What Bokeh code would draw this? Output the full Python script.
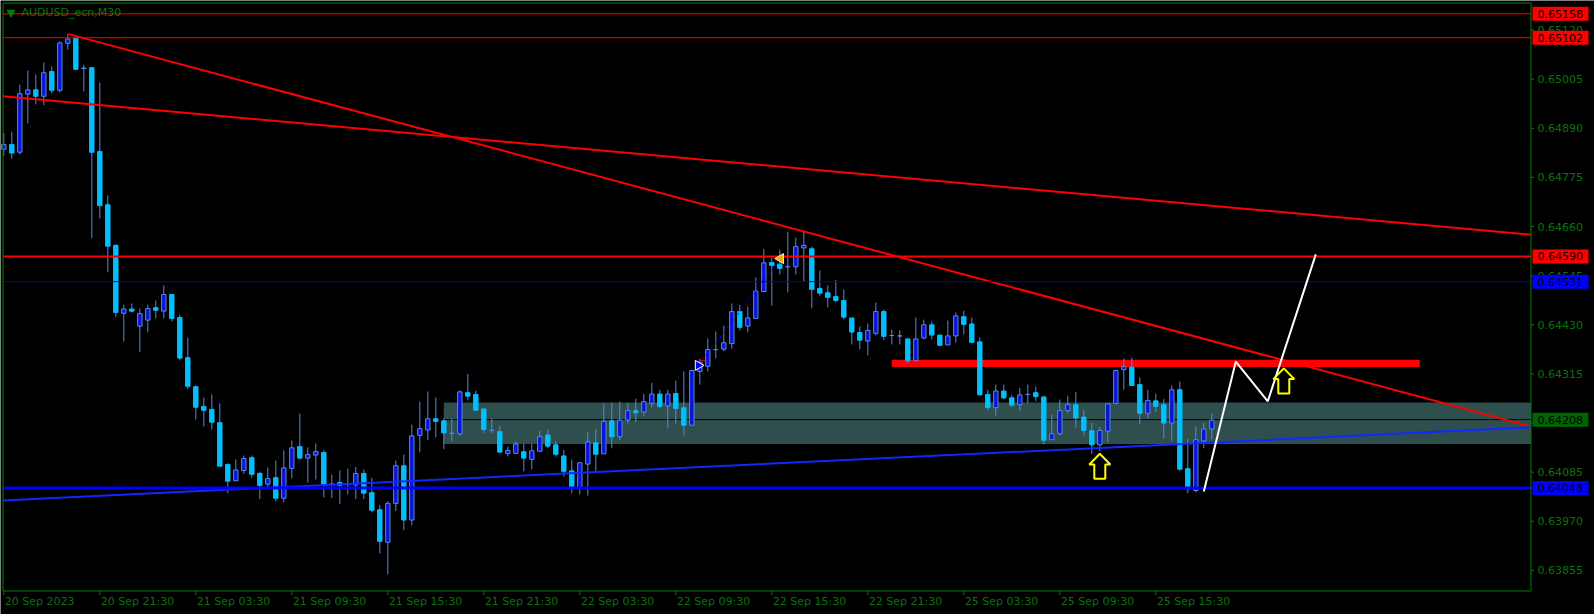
import numpy as np
from bokeh.plotting import figure
from bokeh.models import Range1d, ColumnDataSource
from bokeh.embed import file_html
from bokeh.resources import INLINE
from bokeh.core.properties import value

# ---------------- data (AUDUSD M30, bar index 0 = 20 Sep 2023 15:30) ----------------
opens = [0.64841, 0.64852, 0.64834, 0.64970, 0.64980, 0.64965, 0.65023, 0.64979, 0.65089, 0.65101,
         0.65030, 0.65032, 0.64836, 0.64711, 0.64616, 0.64457, 0.64467, 0.64427, 0.64441, 0.64470,
         0.64462, 0.64501, 0.64447, 0.64353, 0.64285, 0.64239, 0.64232, 0.64201, 0.64103, 0.64065,
         0.64089, 0.64119, 0.64082, 0.64057, 0.64072, 0.64024, 0.64094, 0.64145, 0.64118, 0.64125,
         0.64131, 0.64057, 0.64061, 0.64056, 0.64055, 0.64082, 0.64037, 0.63997, 0.63921, 0.64012,
         0.64100, 0.63973, 0.64171, 0.64184, 0.64210, 0.64205, 0.64176, 0.64175, 0.64271, 0.64267,
         0.64233, 0.64183, 0.64180, 0.64129, 0.64129, 0.64133, 0.64115, 0.64134, 0.64172, 0.64149,
         0.64123, 0.64088, 0.64048, 0.64104, 0.64154, 0.64128, 0.64205, 0.64168, 0.64207, 0.64229,
         0.64226, 0.64246, 0.64268, 0.64240, 0.64269, 0.64236, 0.64195, 0.64321, 0.64333, 0.64372,
         0.64373, 0.64386, 0.64461, 0.64427, 0.64445, 0.64508, 0.64576, 0.64572, 0.64566, 0.64566,
         0.64610, 0.64608, 0.64515, 0.64505, 0.64496, 0.64487, 0.64446, 0.64412, 0.64392, 0.64410,
         0.64461, 0.64405, 0.64404, 0.64397, 0.64346, 0.64399, 0.64430, 0.64406, 0.64383, 0.64404,
         0.64449, 0.64432, 0.64390, 0.64267, 0.64236, 0.64275, 0.64259, 0.64243, 0.64267, 0.64271,
         0.64261, 0.64161, 0.64175, 0.64229, 0.64243, 0.64214, 0.64182, 0.64149, 0.64181, 0.64246,
         0.64325, 0.64331, 0.64290, 0.64223, 0.64252, 0.64243, 0.64200, 0.64278, 0.64093, 0.64042,
         0.64158, 0.64186]
highs = [0.64879, 0.64882, 0.64992, 0.65025, 0.65016, 0.65044, 0.65035, 0.65093, 0.65111, 0.65101,
         0.65039, 0.65032, 0.64997, 0.64733, 0.64618, 0.64477, 0.64480, 0.64468, 0.64477, 0.64487,
         0.64522, 0.64501, 0.64454, 0.64400, 0.64288, 0.64260, 0.64267, 0.64246, 0.64106, 0.64115,
         0.64124, 0.64124, 0.64086, 0.64096, 0.64112, 0.64136, 0.64159, 0.64222, 0.64143, 0.64152,
         0.64136, 0.64079, 0.64089, 0.64093, 0.64097, 0.64091, 0.64072, 0.64008, 0.64017, 0.64112,
         0.64126, 0.64196, 0.64250, 0.64274, 0.64260, 0.64211, 0.64210, 0.64276, 0.64315, 0.64276,
         0.64233, 0.64210, 0.64194, 0.64145, 0.64157, 0.64151, 0.64151, 0.64182, 0.64185, 0.64158,
         0.64137, 0.64114, 0.64109, 0.64180, 0.64186, 0.64246, 0.64248, 0.64250, 0.64247, 0.64257,
         0.64268, 0.64294, 0.64278, 0.64278, 0.64299, 0.64321, 0.64323, 0.64350, 0.64398, 0.64414,
         0.64428, 0.64480, 0.64477, 0.64473, 0.64541, 0.64608, 0.64587, 0.64606, 0.64648, 0.64634,
         0.64648, 0.64613, 0.64557, 0.64522, 0.64535, 0.64513, 0.64446, 0.64426, 0.64433, 0.64482,
         0.64466, 0.64419, 0.64417, 0.64397, 0.64447, 0.64442, 0.64438, 0.64406, 0.64440, 0.64459,
         0.64463, 0.64447, 0.64400, 0.64278, 0.64290, 0.64290, 0.64266, 0.64282, 0.64290, 0.64285,
         0.64264, 0.64220, 0.64255, 0.64264, 0.64273, 0.64231, 0.64200, 0.64191, 0.64247, 0.64325,
         0.64351, 0.64353, 0.64307, 0.64278, 0.64269, 0.64256, 0.64288, 0.64297, 0.64164, 0.64192,
         0.64201, 0.64222]
lows = [0.64826, 0.64819, 0.64829, 0.64902, 0.64946, 0.64944, 0.64972, 0.64974, 0.65074, 0.65028,
        0.64977, 0.64633, 0.64679, 0.64553, 0.64448, 0.64391, 0.64459, 0.64366, 0.64413, 0.64445,
        0.64445, 0.64438, 0.64348, 0.64280, 0.64208, 0.64192, 0.64185, 0.64099, 0.64036, 0.64065,
        0.64081, 0.64072, 0.64022, 0.64049, 0.64017, 0.64015, 0.64071, 0.64115, 0.64061, 0.64068,
        0.64026, 0.64024, 0.64010, 0.64033, 0.64022, 0.64022, 0.63991, 0.63895, 0.63846, 0.63994,
        0.63949, 0.63961, 0.64132, 0.64160, 0.64167, 0.64139, 0.64157, 0.64170, 0.64253, 0.64230,
        0.64176, 0.64176, 0.64130, 0.64122, 0.64129, 0.64087, 0.64092, 0.64134, 0.64141, 0.64122,
        0.64075, 0.64036, 0.64033, 0.64030, 0.64087, 0.64128, 0.64141, 0.64160, 0.64199, 0.64202,
        0.64217, 0.64237, 0.64235, 0.64188, 0.64199, 0.64171, 0.64195, 0.64290, 0.64321, 0.64352,
        0.64368, 0.64374, 0.64417, 0.64413, 0.64445, 0.64508, 0.64475, 0.64548, 0.64506, 0.64548,
        0.64532, 0.64469, 0.64498, 0.64471, 0.64483, 0.64443, 0.64384, 0.64373, 0.64359, 0.64405,
        0.64394, 0.64384, 0.64384, 0.64340, 0.64346, 0.64396, 0.64396, 0.64380, 0.64383, 0.64389,
        0.64408, 0.64387, 0.64266, 0.64230, 0.64217, 0.64256, 0.64238, 0.64228, 0.64246, 0.64251,
        0.64150, 0.64161, 0.64171, 0.64224, 0.64189, 0.64171, 0.64128, 0.64134, 0.64155, 0.64246,
        0.64278, 0.64288, 0.64198, 0.64211, 0.64226, 0.64164, 0.64157, 0.64089, 0.64036, 0.64038,
        0.64141, 0.64162]
closes = [0.64852, 0.64832, 0.64971, 0.64980, 0.64965, 0.65020, 0.64979, 0.65090, 0.65099, 0.65028,
          0.65031, 0.64834, 0.64709, 0.64614, 0.64459, 0.64467, 0.64462, 0.64456, 0.64468, 0.64464,
          0.64501, 0.64445, 0.64352, 0.64286, 0.64237, 0.64230, 0.64202, 0.64099, 0.64064, 0.64090,
          0.64117, 0.64080, 0.64054, 0.64070, 0.64024, 0.64095, 0.64142, 0.64118, 0.64126, 0.64133,
          0.64057, 0.64057, 0.64054, 0.64056, 0.64082, 0.64036, 0.63996, 0.63923, 0.64012, 0.64100,
          0.63973, 0.64170, 0.64187, 0.64210, 0.64204, 0.64177, 0.64176, 0.64273, 0.64263, 0.64230,
          0.64185, 0.64183, 0.64132, 0.64136, 0.64151, 0.64118, 0.64135, 0.64168, 0.64146, 0.64127,
          0.64087, 0.64048, 0.64107, 0.64156, 0.64127, 0.64204, 0.64168, 0.64207, 0.64229, 0.64224,
          0.64250, 0.64268, 0.64239, 0.64268, 0.64234, 0.64195, 0.64323, 0.64342, 0.64372, 0.64372,
          0.64388, 0.64461, 0.64424, 0.64446, 0.64509, 0.64575, 0.64569, 0.64562, 0.64566, 0.64613,
          0.64616, 0.64513, 0.64504, 0.64494, 0.64487, 0.64448, 0.64413, 0.64394, 0.64417, 0.64461,
          0.64403, 0.64405, 0.64404, 0.64346, 0.64397, 0.64430, 0.64406, 0.64382, 0.64404, 0.64451,
          0.64431, 0.64389, 0.64266, 0.64236, 0.64275, 0.64259, 0.64242, 0.64266, 0.64267, 0.64262,
          0.64160, 0.64175, 0.64229, 0.64243, 0.64212, 0.64183, 0.64149, 0.64183, 0.64245, 0.64323,
          0.64332, 0.64288, 0.64223, 0.64253, 0.64239, 0.64200, 0.64278, 0.64092, 0.64046, 0.64161,
          0.64186, 0.64207]

symbol_title = "AUDUSD_ecn,M30"
time_tick_bars = [0, 12, 24, 36, 48, 60, 72, 84, 96, 108, 120, 132, 144]
time_tick_labels = ["20 Sep 2023", "20 Sep 21:30", "21 Sep 03:30", "21 Sep 09:30", "21 Sep 15:30",
                    "21 Sep 21:30", "22 Sep 03:30", "22 Sep 09:30", "22 Sep 15:30", "22 Sep 21:30",
                    "25 Sep 03:30", "25 Sep 09:30", "25 Sep 15:30"]
price_ticks = [0.63855, 0.63970, 0.64085, 0.64200, 0.64315, 0.64430,
               0.64545, 0.64660, 0.64775, 0.64890, 0.65005, 0.65120]

red_levels = [0.65158, 0.65102, 0.64590]
red_level_widths = [1, 1, 2]
blue_levels = [0.64531, 0.64048]
blue_level_colors = ["#0000c8", "#0000ff"]
blue_level_widths = [1, 3]
bid_price = 0.64208

# trend lines: two anchor points each (bar, price)
steep_trend_bars = [8, 190.84]
steep_trend_prices = [0.65111, 0.64192]
shallow_trend_bars = [0, 190.84]
shallow_trend_prices = [0.64965, 0.64641]
blue_trend_bars = [0, 190.84]
blue_trend_prices = [0.64019, 0.64190]

zone_start_bar = 55
zone_prices = [0.64151, 0.64248]
band_bars = [111, 177]
band_prices = [0.64331, 0.64348]

projection_bars = [150, 154, 158, 164]
projection_prices = [0.64040, 0.64344, 0.64251, 0.64595]

arrow_bars = [137, 160]
arrow_tip_prices = [0.64128, 0.64328]

trade_bars = [86.8, 97.1]
trade_prices = [0.64335, 0.64585]
trade_sl_price = 0.64346

tag_prices = [0.65158, 0.65102, 0.64590, 0.64531, 0.64208, 0.64048]
tag_colors = ["#ff0000", "#ff0000", "#ff0000", "#0000ff", "#006400", "#0000ff"]

# ---------------- layout helpers (pixel -> data) ----------------
W, H = 1594, 614
BAR0_PX, PX_PER_BAR = 3.3, 8.0
PRICE_AT_PX0, PRICE_PER_PX = 0.651892, 0.00002341
CHART_L, CHART_R, CHART_T, CHART_B = 2.5, 1530.5, 2.5, 590.5


def bx(px):
    return (px - BAR0_PX) / PX_PER_BAR


def py(pix):
    return PRICE_AT_PX0 - PRICE_PER_PX * pix


def extend(bars, prices, b_from, b_to):
    slope = (prices[1] - prices[0]) / (bars[1] - bars[0])
    return [b_from, b_to], [prices[0] + slope * (b_from - bars[0]), prices[0] + slope * (b_to - bars[0])]


XL, XR = bx(CHART_L), bx(CHART_R)

GREEN = "#008000"
TEXT_GREEN = "#0a740a"
FONT = value("DejaVu Sans")
FSIZE = value("11px")
WICK = "#4f8ae6"
BULL = "#0a14d8"
BEAR = "#00bfff"

p = figure(width=W, height=H, output_backend="svg", toolbar_location=None,
           x_range=Range1d(bx(0), bx(W)), y_range=Range1d(py(H), py(0)),
           x_axis_location=None, y_axis_location=None,
           min_border_left=0, min_border_top=0, min_border_right=0, min_border_bottom=0)
p.background_fill_color = "black"
p.border_fill_color = "black"
p.outline_line_color = None
p.xgrid.visible = False
p.ygrid.visible = False

# zone rectangle (background object)
p.quad(left=[zone_start_bar], right=[XR], bottom=[zone_prices[0]], top=[zone_prices[1]],
       fill_color="#2f4f4f", line_color=None)
# bid line
p.segment(x0=[XL], x1=[XR], y0=[bid_price], y1=[bid_price], line_color="black", line_width=1)
# red resistance band
p.quad(left=[band_bars[0]], right=[band_bars[1]], bottom=[band_prices[0]], top=[band_prices[1]],
       fill_color="#ff0000", line_color=None)

# candles
o = np.array(opens)
c = np.array(closes)
bull = c >= o
src = ColumnDataSource(dict(
    bar=list(range(len(opens))), high=highs, low=lows,
    top=np.maximum(o, c).tolist(), bottom=np.minimum(o, c).tolist(),
    fill=[BULL if b else BEAR for b in bull],
    edge=[WICK if b else BEAR for b in bull]))
p.segment(x0="bar", x1="bar", y0="low", y1="high", source=src, line_color=WICK, line_width=1)
p.vbar(x="bar", width=0.55, top="top", bottom="bottom", source=src,
       fill_color="fill", line_color="edge", line_width=1)

# trend lines (extended to the chart edges)
tx, ty = extend(steep_trend_bars, steep_trend_prices, steep_trend_bars[0], XR)
p.line(tx, ty, line_color="#ff0000", line_width=2)
tx, ty = extend(shallow_trend_bars, shallow_trend_prices, XL, XR)
p.line(tx, ty, line_color="#ff0000", line_width=2)
tx, ty = extend(blue_trend_bars, blue_trend_prices, XL, XR)
p.line(tx, ty, line_color="#1028ff", line_width=2)

# horizontal levels
for lv, w in zip(red_levels, red_level_widths):
    p.segment(x0=[XL], x1=[XR], y0=[lv], y1=[lv], line_color="#ff0000", line_width=w)
for lv, col, w in zip(blue_levels, blue_level_colors, blue_level_widths):
    p.segment(x0=[XL], x1=[XR], y0=[lv], y1=[lv], line_color=col, line_width=w)

# trade history markers
p.line(trade_bars, trade_prices, line_color="#0000ff", line_width=1, line_dash="2 2")
p.segment(x0=[trade_bars[0] + 0.1], x1=[trade_bars[0] + 0.9], y0=[trade_sl_price], y1=[trade_sl_price],
          line_color="#ff0000", line_width=1)
p.scatter([trade_bars[0]], [trade_prices[0]], marker="triangle", angle=-np.pi / 2, size=10,
          fill_color="#0000ff", line_color="white", line_width=1)
p.scatter([trade_bars[1]], [trade_prices[1]], marker="triangle", angle=np.pi / 2, size=10,
          fill_color="#ffa500", line_color="#fff3c0", line_width=1)

# projection zigzag
p.line(projection_bars, projection_prices, line_color="white", line_width=2)

# hollow yellow up-arrows
dx_px = np.array([0, 10.5, 5.5, 5.5, -5.5, -5.5, -10.5])
dy_px = np.array([0, 10.7, 10.7, 25, 25, 10.7, 10.7])
xs, ys = [], []
for b, tip in zip(arrow_bars, arrow_tip_prices):
    xs.append((b + dx_px / PX_PER_BAR).tolist())
    ys.append((tip - dy_px * PRICE_PER_PX).tolist())
p.patches(xs, ys, fill_color="black", fill_alpha=0.0, line_color="#ffff00", line_width=2)

# chart frame
p.segment(x0=[XL, XL, XL, XR], x1=[XR, XR, XL, XR],
          y0=[py(CHART_T), py(CHART_B), py(CHART_T), py(CHART_T)],
          y1=[py(CHART_T), py(CHART_B), py(CHART_B), py(CHART_B)],
          line_color=GREEN, line_width=1)

# price scale (right); text anchored so its visual centre sits on the tick
p.segment(x0=[XR] * len(price_ticks), x1=[bx(CHART_R + 3)] * len(price_ticks),
          y0=price_ticks, y1=price_ticks, line_color=GREEN, line_width=1)
p.text(x=[bx(1537)] * len(price_ticks), y=price_ticks,
       text=[f"{t:.5f}" for t in price_ticks], text_color=TEXT_GREEN, text_font=FONT,
       text_font_size=FSIZE, text_align="left", text_baseline="alphabetic")

# time scale (bottom)
p.segment(x0=time_tick_bars, x1=time_tick_bars, y0=[py(CHART_B)] * len(time_tick_bars),
          y1=[py(CHART_B + 4)] * len(time_tick_bars), line_color=GREEN, line_width=1)
p.text(x=[b + 0.12 for b in time_tick_bars], y=[py(600.5)] * len(time_tick_bars), text=time_tick_labels,
       text_color=TEXT_GREEN, text_font=FONT, text_font_size=FSIZE,
       text_align="left", text_baseline="alphabetic")

# price tags
p.quad(left=[bx(1532)] * len(tag_prices), right=[bx(1588)] * len(tag_prices),
       bottom=[v - 7 * PRICE_PER_PX for v in tag_prices], top=[v + 7 * PRICE_PER_PX for v in tag_prices],
       fill_color=tag_colors, line_color=None)
p.text(x=[bx(1537)] * len(tag_prices), y=tag_prices,
       text=[f"{v:.5f}" for v in tag_prices], text_color="black", text_font=FONT,
       text_font_size=FSIZE, text_align="left", text_baseline="alphabetic")

# title
p.scatter([bx(10.5)], [py(12)], marker="inverted_triangle", size=8, fill_color=GREEN, line_color=GREEN)
p.text(x=[bx(21)], y=[py(12)], text=[symbol_title], text_color=TEXT_GREEN, text_font=FONT,
       text_font_size=FSIZE, text_align="left", text_baseline="alphabetic")

open("out.html", "w").write(file_html(p, INLINE))
